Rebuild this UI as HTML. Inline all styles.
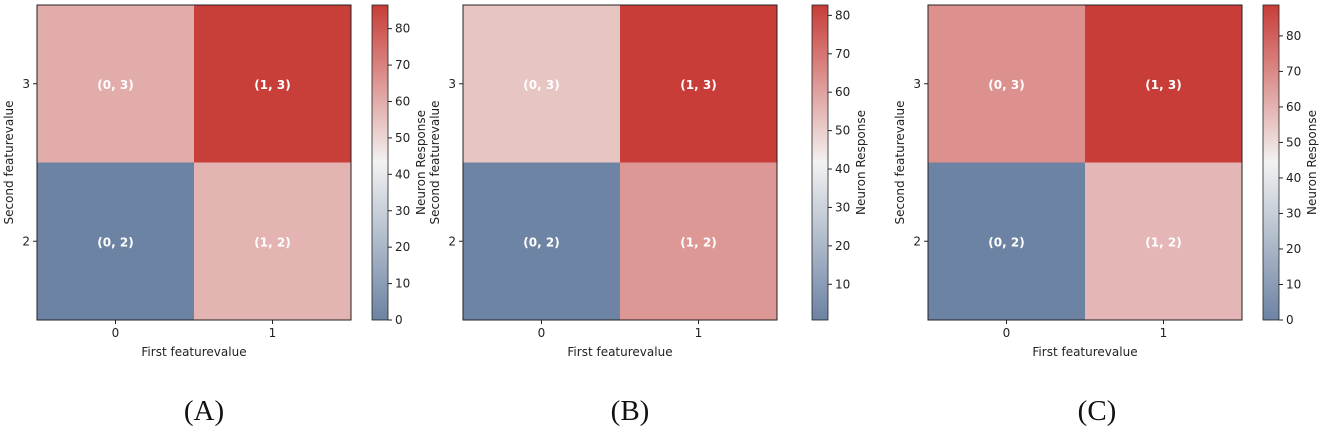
<!DOCTYPE html>
<html><head><meta charset="utf-8"><style>
body{margin:0;background:#fff;width:1325px;height:431px;overflow:hidden}
svg{display:block}
text{font-family:"DejaVu Sans","Liberation Sans",sans-serif}
</style></head><body>
<svg id="chart" width="1325" height="431" viewBox="0 0 1325 431" xmlns="http://www.w3.org/2000/svg"></svg>
<script>
const panelLabels = ["(A)", "(B)", "(C)"];
const xCategories = ["0", "1"];
const yCategories = ["3", "2"];
// cell values per panel: [row3:[x0,x1], row2:[x0,x1]]
const valuesA = [[60, 86], [0, 58]];
const valuesB = [[52, 83], [1, 62]];
const valuesC = [[68, 89], [0, 59]];
const cbMinA = 0, cbMaxA = 86.5;
const cbMinB = 0.7, cbMaxB = 82.7;
const cbMinC = 0, cbMaxC = 88.7;
const cbTicksA = [0,10,20,30,40,50,60,70,80];
const cbTicksB = [10,20,30,40,50,60,70,80];
const cbTicksC = [0,10,20,30,40,50,60,70,80];

const svg = document.getElementById('chart');
const NS = "http://www.w3.org/2000/svg";
function mk(tag, attrs, parent){const e=document.createElementNS(NS,tag);for(const k in attrs)e.setAttribute(k,attrs[k]);(parent||svg).appendChild(e);return e;}
const blue=[108,131,163], mid=[242,242,242], red=[200,61,56];
function cmap(t){
  t=Math.max(0,Math.min(1,t));
  let a,b,u; if(t<0.5){a=blue;b=mid;u=t/0.5;}else{a=mid;b=red;u=(t-0.5)/0.5;}
  return `rgb(${a.map((v,i)=>Math.round(v+(b[i]-v)*u)).join(',')})`;
}
const panels=[
 {vals:valuesA,min:cbMinA,max:cbMaxA,ticks:cbTicksA,hx:37,cbx:372,capx:204,cap:panelLabels[0]},
 {vals:valuesB,min:cbMinB,max:cbMaxB,ticks:cbTicksB,hx:463,cbx:812,capx:630,cap:panelLabels[1]},
 {vals:valuesC,min:cbMinC,max:cbMaxC,ticks:cbTicksC,hx:928,cbx:1263,capx:1097,cap:panelLabels[2]}
];
const topY=5,H=315,W=314,cbW=16,FS='12';
panels.forEach((p,pi)=>{
  const g=mk('g',{});
  
  
  const cw=W/xCategories.length, ch=H/yCategories.length;
  const xPos=i=>p.hx+cw*(i+0.5), yPos=j=>topY+ch*(j+0.5);
  p.vals.forEach((row,j)=>row.forEach((v,i)=>{
    const r=mk('rect',{x:p.hx+cw*i,y:topY+ch*j,width:cw+0.5,height:ch+0.5,fill:cmap((v-p.min)/(p.max-p.min))},g);
    
    
    const t=mk('text',{x:xPos(i),y:yPos(j)+5,'text-anchor':'middle','font-size':FS,'font-weight':'bold',fill:'#fff'},g);
    t.textContent=`(${xCategories[i]}, ${yCategories[j]})`;
    
    
  }));
  mk('rect',{x:p.hx,y:topY,width:W,height:H,fill:'none',stroke:'#222','stroke-width':1},g);
  xCategories.forEach((c,i)=>{
    mk('line',{x1:xPos(i),x2:xPos(i),y1:topY+H,y2:topY+H+4,stroke:'#222'},g);
    const t=mk('text',{x:xPos(i),y:topY+H+17,'text-anchor':'middle','font-size':FS,fill:'#222'},g);t.textContent=c;
    
    
  });
  yCategories.forEach((c,j)=>{
    mk('line',{x1:p.hx-4,x2:p.hx,y1:yPos(j),y2:yPos(j),stroke:'#222'},g);
    const t=mk('text',{x:p.hx-7,y:yPos(j)+4,'text-anchor':'end','font-size':FS,fill:'#222'},g);t.textContent=c;
    
    
  });
  const xl=mk('text',{x:p.hx+W/2,y:topY+H+36,'text-anchor':'middle','font-size':FS,fill:'#222'},g);xl.textContent='First featurevalue';
  
  
  const yl=mk('text',{x:0,y:0,'text-anchor':'middle','font-size':FS,fill:'#222',transform:`translate(${p.hx-24},${topY+H/2}) rotate(-90)`},g);yl.textContent='Second featurevalue';
  
  
  const gid='grad'+pi;
  const defs=mk('defs',{},g);
  const lg=mk('linearGradient',{id:gid,x1:0,y1:1,x2:0,y2:0},defs);
  for(let k=0;k<=20;k++)mk('stop',{offset:k/20,'stop-color':cmap(k/20)},lg);
  const cb=mk('rect',{x:p.cbx,y:topY,width:cbW,height:H,fill:`url(#${gid})`,stroke:'#222','stroke-width':0.8},g);
  
  
  const cy=v=>topY+H-(v-p.min)/(p.max-p.min)*H;
  p.ticks.forEach(v=>{
    mk('line',{x1:p.cbx+cbW,x2:p.cbx+cbW+4,y1:cy(v),y2:cy(v),stroke:'#222'},g);
    const t=mk('text',{x:p.cbx+cbW+7,y:cy(v)+4,'font-size':FS,fill:'#222'},g);t.textContent=v;
    
    
  });
  const cl=mk('text',{x:0,y:0,'text-anchor':'middle','font-size':FS,fill:'#222',transform:`translate(${p.cbx+cbW+37},${topY+H/2}) rotate(-90)`},g);cl.textContent='Neuron Response';
  
  
  const cap=mk('text',{x:p.capx,y:420,'text-anchor':'middle',fill:'#111',style:'font-family:"Liberation Serif",serif;font-size:29px'},g);cap.textContent=p.cap;
  
  
});
</script>
</body></html>
